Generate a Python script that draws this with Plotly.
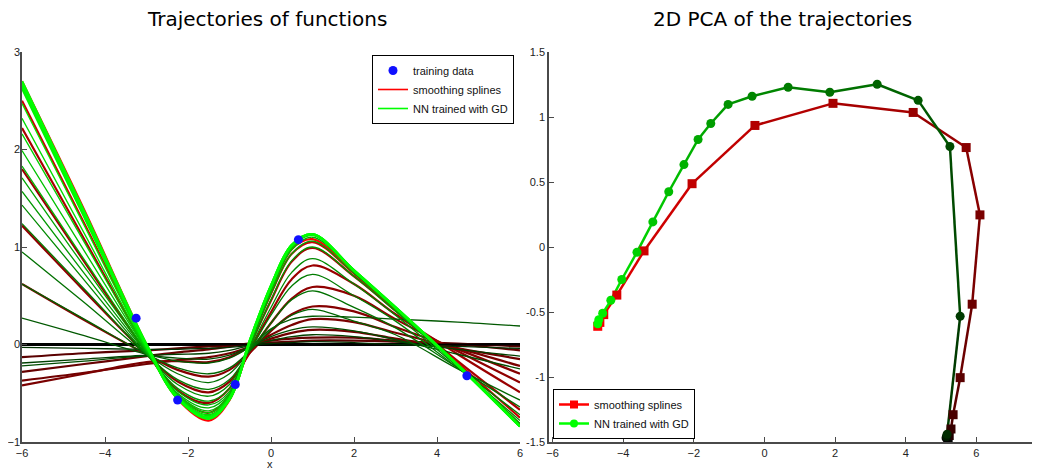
import plotly.graph_objects as go

# ---------------- data: left panel (function trajectories) ----------------
grid_x = [-6, -4.5, -3, -2.25, -1.5, -1, -0.5, 0, 0.5, 1, 2, 3, 4.5, 6]

spline_curves = [
    [0, 0, 0, 0, 0, 0, 0, 0, 0, 0, 0, 0, 0, 0],
    [-0.13, -0.09, -0.06, -0.04, -0.02, -0.01, 0.01, 0.02, 0.03, 0.04, 0.04, 0.03, 0.01, -0.02],
    [-0.28, -0.20, -0.12, -0.08, -0.05, -0.02, 0.01, 0.04, 0.06, 0.07, 0.07, 0.04, 0.00, -0.06],
    [-0.37, -0.29, -0.20, -0.16, -0.13, -0.09, -0.02, 0.06, 0.12, 0.15, 0.13, 0.06, -0.04, -0.15],
    [-0.42, -0.30, -0.18, -0.17, -0.18, -0.13, -0.02, 0.10, 0.20, 0.26, 0.23, 0.12, -0.04, -0.22],
    [0.62, 0.25, -0.10, -0.26, -0.33, -0.26, -0.08, 0.14, 0.31, 0.39, 0.34, 0.18, -0.05, -0.30],
    [1.22, 0.55, -0.10, -0.38, -0.49, -0.38, -0.08, 0.22, 0.47, 0.59, 0.50, 0.26, -0.07, -0.39],
    [1.80, 0.85, -0.08, -0.47, -0.60, -0.45, -0.05, 0.33, 0.67, 0.81, 0.62, 0.31, -0.10, -0.49],
    [2.22, 1.08, -0.05, -0.52, -0.70, -0.52, -0.01, 0.45, 0.85, 0.99, 0.70, 0.35, -0.17, -0.67],
    [2.50, 1.24, -0.02, -0.54, -0.75, -0.55, 0.02, 0.52, 0.93, 1.05, 0.73, 0.36, -0.19, -0.75],
    [2.70, 1.38, 0.00, -0.56, -0.78, -0.57, 0.03, 0.55, 0.98, 1.08, 0.74, 0.37, -0.21, -0.82],
]

nn_curves = [
    [0, 0, 0, 0, 0, 0, 0, 0, 0, 0, 0, 0, 0, 0],
    [-0.03, -0.04, -0.05, -0.05, -0.04, -0.03, -0.01, 0.01, 0.02, 0.03, 0.02, 0.00, -0.02, -0.04],
    [-0.19, -0.15, -0.11, -0.10, -0.09, -0.06, -0.01, 0.04, 0.08, 0.10, 0.08, 0.03, -0.05, -0.12],
    [-0.22, -0.17, -0.12, -0.14, -0.15, -0.11, -0.02, 0.08, 0.15, 0.18, 0.14, 0.05, -0.10, -0.25],
    [0.27, 0.09, -0.10, -0.17, -0.19, -0.14, -0.02, 0.16, 0.26, 0.29, 0.28, 0.26, 0.23, 0.19],
    [0.62, 0.26, -0.10, -0.24, -0.30, -0.24, -0.06, 0.15, 0.30, 0.36, 0.24, 0.10, -0.25, -0.57],
    [0.95, 0.43, -0.10, -0.30, -0.39, -0.30, -0.06, 0.22, 0.46, 0.55, 0.38, 0.17, -0.24, -0.64],
    [1.24, 0.57, -0.10, -0.36, -0.46, -0.36, -0.05, 0.30, 0.60, 0.72, 0.50, 0.24, -0.24, -0.72],
    [1.43, 0.66, -0.10, -0.41, -0.53, -0.41, -0.03, 0.38, 0.74, 0.88, 0.62, 0.30, -0.23, -0.78],
    [1.57, 0.73, -0.09, -0.45, -0.58, -0.45, -0.01, 0.46, 0.86, 1.00, 0.70, 0.34, -0.22, -0.81],
    [1.71, 0.80, -0.08, -0.48, -0.62, -0.48, 0.01, 0.52, 0.93, 1.06, 0.73, 0.36, -0.22, -0.83],
    [1.83, 0.87, -0.07, -0.50, -0.65, -0.50, 0.02, 0.55, 0.97, 1.10, 0.75, 0.37, -0.21, -0.84],
    [1.99, 0.96, -0.06, -0.51, -0.68, -0.52, 0.03, 0.57, 0.99, 1.12, 0.76, 0.38, -0.21, -0.84],
    [2.16, 1.05, -0.05, -0.52, -0.70, -0.53, 0.04, 0.58, 1.00, 1.13, 0.76, 0.38, -0.21, -0.84],
    [2.32, 1.14, -0.04, -0.53, -0.72, -0.54, 0.04, 0.59, 1.01, 1.13, 0.76, 0.38, -0.21, -0.84],
    [2.47, 1.22, -0.03, -0.54, -0.73, -0.55, 0.05, 0.60, 1.02, 1.13, 0.76, 0.38, -0.21, -0.84],
    [2.63, 1.31, -0.01, -0.55, -0.75, -0.56, 0.05, 0.60, 1.02, 1.13, 0.76, 0.38, -0.21, -0.84],
    [2.66, 1.33, -0.01, -0.55, -0.75, -0.56, 0.05, 0.60, 1.02, 1.13, 0.76, 0.38, -0.21, -0.84],
    [2.70, 1.36, 0.00, -0.55, -0.76, -0.56, 0.05, 0.60, 1.02, 1.13, 0.76, 0.38, -0.21, -0.84],
]

train_x = [-3.25, -2.25, -0.86, 0.66, 4.72]
train_y = [0.27, -0.57, -0.41, 1.075, -0.32]

# ---------------- data: right panel (2D PCA) ----------------
pca_spline_pc1 = [5.20, 5.23, 5.28, 5.34, 5.54, 5.88, 6.10, 5.71, 4.21, 1.94, -0.27, -2.05, -3.41, -4.18, -4.55, -4.66, -4.72]
pca_spline_pc2 = [-1.47, -1.45, -1.40, -1.29, -1.005, -0.44, 0.247, 0.765, 1.035, 1.105, 0.935, 0.487, -0.03, -0.37, -0.52, -0.58, -0.61]

pca_nn_pc1 = [5.14, 5.15, 5.17, 5.54, 5.25, 4.35, 3.19, 1.85, 0.67, -0.35, -1.03, -1.52, -1.88, -2.28, -2.71, -3.16, -3.61, -4.04, -4.35, -4.58, -4.69, -4.72]
pca_nn_pc2 = [-1.47, -1.46, -1.44, -0.533, 0.773, 1.128, 1.252, 1.19, 1.229, 1.16, 1.097, 0.95, 0.827, 0.634, 0.425, 0.193, -0.04, -0.25, -0.41, -0.51, -0.56, -0.59]

# ---------------- styles ----------------
red_colors = ['#000000', '#5a0000', '#650000', '#700000', '#7a0000', '#850000',
              '#8f0000', '#9a0000', '#aa0000', '#c80000', '#ff0000']
green_colors = ['#000000', '#003000', '#004000', '#004c00', '#005800', '#006400',
                '#007000', '#007c00', '#008a00', '#009800', '#00a600', '#00b400',
                '#00c200', '#00d000', '#00dc00', '#00e800', '#00f200', '#00fa00', '#00ff00']

def ramp(n, chan):
    cols = []
    for i in range(n):
        v = int(round(255 * (i / (n - 1)) ** 0.75))
        cols.append('rgb(%d,0,0)' % v if chan == 'r' else 'rgb(0,%d,0)' % v)
    return cols

W, H = 1032, 462          # page body has an 8px offset
OX, OY = 8, 8
PLOT_H = 390

def px(xs):
    return (xs - OX) / W

TICKFONT = dict(family='Liberation Sans, Arial, sans-serif', size=11, color='#222222')
LEGFONT = dict(family='Liberation Sans, Arial, sans-serif', size=11, color='#111111')
TITLEFONT = dict(family='DejaVu Sans, sans-serif', size=20, color='black')

fig = go.Figure()

# left panel curves
for i, ys in enumerate(spline_curves):
    fig.add_trace(go.Scatter(x=grid_x, y=ys, mode='lines',
                             line=dict(color=red_colors[i], width=2.2 if i else 3, shape='spline', smoothing=1.0),
                             xaxis='x', yaxis='y', showlegend=False, hoverinfo='skip'))
for i, ys in enumerate(nn_curves):
    w = 1.3
    if i >= 16:
        w = 2.6
    if i == 0:
        w = 2
    fig.add_trace(go.Scatter(x=grid_x, y=ys, mode='lines',
                             line=dict(color=green_colors[i], width=w, shape='spline', smoothing=1.0),
                             xaxis='x', yaxis='y', showlegend=False, hoverinfo='skip'))

fig.add_trace(go.Scatter(x=train_x, y=train_y, mode='markers', marker=dict(color='#1010ff', size=9),
                         xaxis='x', yaxis='y', name='training data', legend='legend'))
# legend-only entries (placed outside the visible range)
fig.add_trace(go.Scatter(x=[100, 101], y=[100, 101], mode='lines', line=dict(color='#ff0000', width=1.6),
                         xaxis='x', yaxis='y', name='smoothing splines', legend='legend'))
fig.add_trace(go.Scatter(x=[100, 101], y=[100, 101], mode='lines', line=dict(color='#00ff00', width=1.6),
                         xaxis='x', yaxis='y', name='NN trained with GD', legend='legend'))

# right panel
rc = ramp(len(pca_spline_pc1), 'r')
gc = ramp(len(pca_nn_pc1), 'g')
for i in range(len(pca_spline_pc1) - 1):
    fig.add_trace(go.Scatter(x=pca_spline_pc1[i:i + 2], y=pca_spline_pc2[i:i + 2], mode='lines',
                             line=dict(color=rc[i + 1], width=2.5), xaxis='x2', yaxis='y2',
                             showlegend=False, hoverinfo='skip'))
for i in range(len(pca_nn_pc1) - 1):
    fig.add_trace(go.Scatter(x=pca_nn_pc1[i:i + 2], y=pca_nn_pc2[i:i + 2], mode='lines',
                             line=dict(color=gc[i + 1], width=2.5), xaxis='x2', yaxis='y2',
                             showlegend=False, hoverinfo='skip'))
fig.add_trace(go.Scatter(x=pca_spline_pc1, y=pca_spline_pc2, mode='markers',
                         marker=dict(symbol='square', size=9, color=rc), xaxis='x2', yaxis='y2',
                         showlegend=False, hoverinfo='skip'))
fig.add_trace(go.Scatter(x=pca_nn_pc1, y=pca_nn_pc2, mode='markers',
                         marker=dict(symbol='circle', size=9, color=gc), xaxis='x2', yaxis='y2',
                         showlegend=False, hoverinfo='skip'))
fig.add_trace(go.Scatter(x=[100, 101], y=[100, 101], mode='lines+markers', line=dict(color='#ff0000', width=2.5),
                         marker=dict(symbol='square', size=8, color='#ff0000'),
                         xaxis='x2', yaxis='y2', name='smoothing splines', legend='legend2'))
fig.add_trace(go.Scatter(x=[100, 101], y=[100, 101], mode='lines+markers', line=dict(color='#00ff00', width=2.5),
                         marker=dict(symbol='circle', size=8, color='#00ff00'),
                         xaxis='x2', yaxis='y2', name='NN trained with GD', legend='legend2'))

axis_common = dict(showgrid=False, zeroline=False, showline=True, linecolor='#4a4a4a', linewidth=1.5,
                   ticks='inside', ticklen=5, tickcolor='#4a4a4a', tickwidth=1, tickfont=TICKFONT,
                   mirror=False, automargin=False)

fig.update_layout(
    width=W, height=H,
    margin=dict(l=0, r=0, t=52 - OY, b=H - (442 - OY), pad=0),
    paper_bgcolor='white', plot_bgcolor='white',
    xaxis=dict(domain=[px(22), px(520)], range=[-6, 6], tickvals=[-6, -4, -2, 0, 2, 4, 6], **axis_common),
    yaxis=dict(domain=[0, 1], range=[-1, 3], tickvals=[-1, 0, 1, 2, 3], ticklabelstandoff=-2, **axis_common),
    xaxis2=dict(domain=[px(549), 1.0], range=[-6.1, 7.8], tickvals=[-6, -4, -2, 0, 2, 4, 6], anchor='y2',
                **axis_common),
    yaxis2=dict(domain=[0, 1], range=[-1.5, 1.5], tickvals=[-1.5, -1, -0.5, 0, 0.5, 1, 1.5],
                ticktext=['-1.5', '-1', '-0.5', '0', '0.5', '1', '1.5'], anchor='x2', **axis_common),
    legend=dict(x=px(514), xanchor='right', y=1 - 3 / PLOT_H, yanchor='top', bgcolor='white',
                bordercolor='black', borderwidth=1, font=LEGFONT, tracegroupgap=0),
    legend2=dict(x=px(553), xanchor='left', y=3 / PLOT_H, yanchor='bottom', bgcolor='white',
                 bordercolor='black', borderwidth=1, font=LEGFONT, tracegroupgap=0),
    annotations=[
        dict(text='Trajectories of functions', x=px(267), y=1 + 33 / PLOT_H, xref='paper', yref='paper',
             xanchor='center', yanchor='middle', showarrow=False, font=TITLEFONT),
        dict(text='2D PCA of the trajectories', x=px(782), y=1 + 33 / PLOT_H, xref='paper', yref='paper',
             xanchor='center', yanchor='middle', showarrow=False, font=TITLEFONT),
        dict(text='x', x=px(270), y=-14 / PLOT_H, xref='paper', yref='paper', xanchor='center', yanchor='top',
             showarrow=False, font=TICKFONT),
    ],
)

fig.write_html('out.html')
